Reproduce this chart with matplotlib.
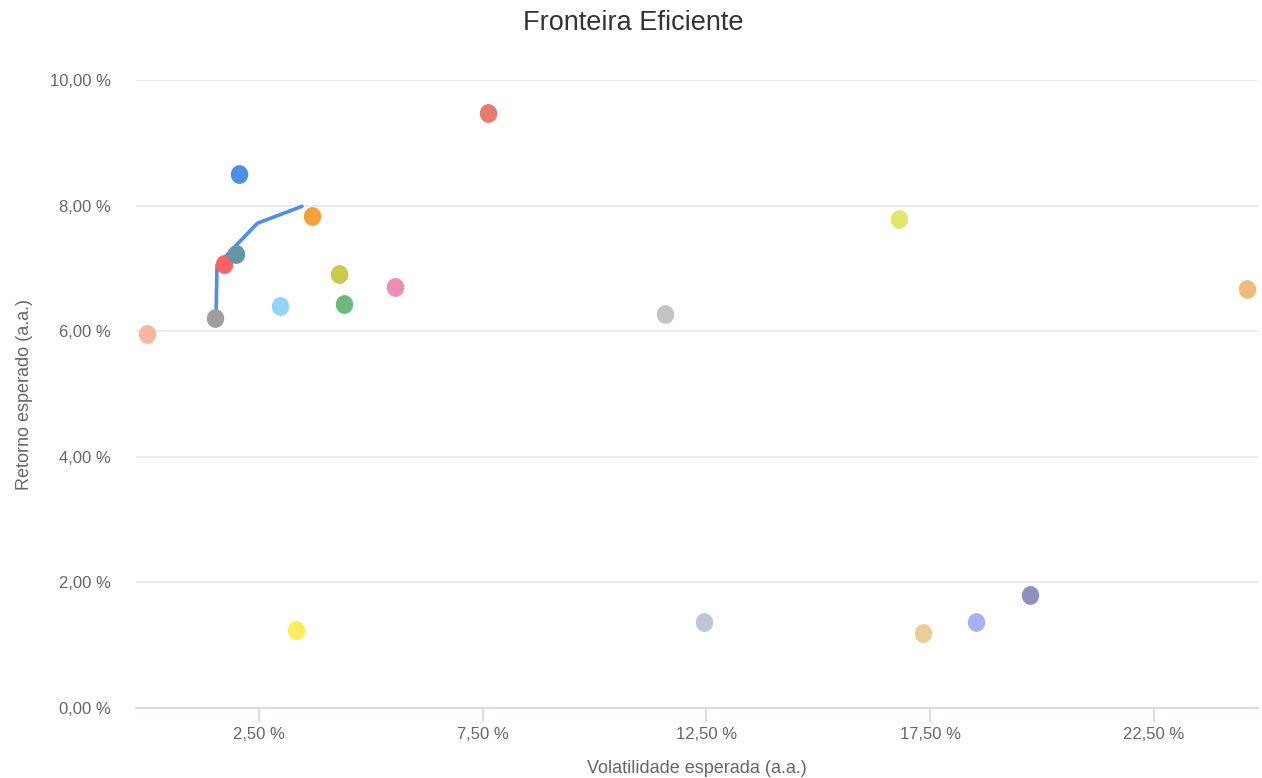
import numpy as np
import matplotlib.pyplot as plt
from matplotlib.ticker import FuncFormatter

plt.rcParams['font.family'] = ['Liberation Sans', 'DejaVu Sans']

# Ativos: volatilidade (%), retorno (%), cor
vol = [0.0, 1.52, 1.72, 1.99, 2.06, 2.97, 3.33, 3.69, 4.29, 4.40, 5.54,
       7.62, 11.58, 12.45, 16.81, 17.34, 18.53, 19.74, 24.59]
ret = [5.96, 6.21, 7.07, 7.23, 8.50, 6.40, 1.24, 7.83, 6.91, 6.43, 6.70,
       9.47, 6.27, 1.37, 7.79, 1.19, 1.37, 1.80, 6.67]
colors = ['#f8b5a2', '#9e9e9e', '#fb6363', '#6497a6', '#4c90e6', '#92d4f7',
          '#fdec5e', '#f5a13a', '#cbc84c', '#6cb97e', '#ee8db6', '#e57c6c',
          '#c4c4c4', '#c1c5d6', '#e4e66c', '#e9ce95', '#aab0f4', '#8f8fc2',
          '#efbd7b']

# Fronteira eficiente
front_vol = [1.54, 1.56, 2.46, 3.46]
front_ret = [6.31, 7.05, 7.72, 7.99]

fig = plt.figure(figsize=(12.62, 7.78), dpi=100)
ax = fig.add_axes([0.1078, 0.09, 0.889, 0.807])

ax.plot(front_vol, front_ret, color='#4e8fe8', lw=2.6, zorder=2,
        solid_capstyle='round', solid_joinstyle='round')

t = np.linspace(0, 2 * np.pi, 40)
ellipse = np.column_stack([0.92 * np.cos(t), np.sin(t)])
for x, y, c in zip(vol, ret, colors):
    ax.plot(x, y, marker=ellipse, ms=12.5, color=c, mec=c, ls='none', zorder=3)

ax.set_xlim(-0.25, 24.83)
ax.set_ylim(0, 10)
ax.set_xticks([2.5, 7.5, 12.5, 17.5, 22.5])
ax.set_yticks([0, 2, 4, 6, 8, 10])
fmt = FuncFormatter(lambda v, p: ('%.2f' % v).replace('.', ',') + ' %')
ax.xaxis.set_major_formatter(fmt)
ax.yaxis.set_major_formatter(fmt)

ax.grid(axis='y', color='#e6e6e6', lw=1.2)
ax.set_axisbelow(True)
for s in ['top', 'right', 'left']:
    ax.spines[s].set_visible(False)
ax.spines['bottom'].set_color('#ccd6eb')
ax.spines['bottom'].set_linewidth(1.2)
ax.tick_params(axis='x', colors='#ccd6eb', labelcolor='#666666',
               labelsize=12, length=10, width=1.2, pad=4)
ax.tick_params(axis='y', length=0, labelcolor='#666666', labelsize=12, pad=18)

ax.set_xlabel('Volatilidade esperada (a.a.)', fontsize=13, color='#666666', labelpad=13)
ax.set_ylabel('Retorno esperado (a.a.)', fontsize=13, color='#666666', labelpad=12)
fig.text(0.502, 0.970, 'Fronteira Eficiente', ha='center', va='center',
         fontsize=19.5, color='#333333')

fig.savefig('out.png', dpi=100)
